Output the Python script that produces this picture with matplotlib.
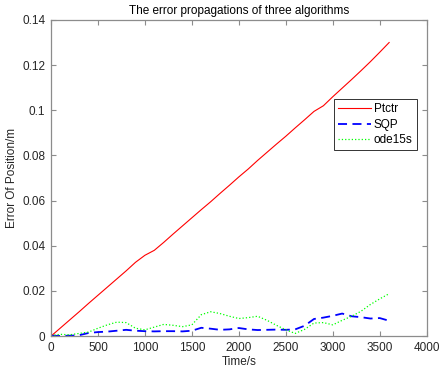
import matplotlib
matplotlib.use('Agg')
import matplotlib.pyplot as plt
import numpy as np

plt.rcParams['font.family'] = ['Liberation Sans', 'DejaVu Sans']

t = np.arange(0, 3700, 100)

ptctr = [0.0, 0.0036, 0.0072, 0.0108, 0.0145, 0.0181, 0.0217, 0.0253, 0.0289, 0.0327,
         0.0358, 0.0380, 0.0415, 0.0452, 0.0488, 0.0524, 0.0560, 0.0595, 0.0632, 0.0668,
         0.0705, 0.0740, 0.0778, 0.0814, 0.0850, 0.0885, 0.0922, 0.0958, 0.0995, 0.1020,
         0.1060, 0.1098, 0.1136, 0.1175, 0.1215, 0.1257, 0.1300]

sqp = [0.0002, 0.0001, 0.0002, 0.0004, 0.0014, 0.0018, 0.0020, 0.0024, 0.0028, 0.0024,
       0.0022, 0.0021, 0.0022, 0.0022, 0.0021, 0.0024, 0.0037, 0.0033, 0.0028, 0.0030,
       0.0036, 0.0030, 0.0027, 0.0028, 0.0029, 0.0028, 0.0030, 0.0046, 0.0076, 0.0082,
       0.0090, 0.0100, 0.0088, 0.0084, 0.0078, 0.0080, 0.0068]

ode15s = [0.0003, 0.0008, 0.0006, 0.0012, 0.0018, 0.0035, 0.0050, 0.0062, 0.0060, 0.0035,
          0.0028, 0.0040, 0.0052, 0.0048, 0.0042, 0.0050, 0.0095, 0.0108, 0.0100, 0.0088,
          0.0078, 0.0082, 0.0088, 0.0070, 0.0048, 0.0028, 0.0012, 0.0030, 0.0058, 0.0060,
          0.0050, 0.0070, 0.0088, 0.0110, 0.0140, 0.0165, 0.0188]

fig = plt.figure(figsize=(4.41, 3.76), dpi=100)
ax = fig.add_axes([0.1156, 0.106, 0.852, 0.841])

ax.plot(t, ptctr, color='red', lw=0.8, label='Ptctr')
ax.plot(t, sqp, color='blue', lw=1.3, ls=(0, (5, 3)), label='SQP')
ax.plot(t, ode15s, color='#00ff00', lw=0.9, ls=':', label='ode15s')

ax.set_xlim(0, 4000)
ax.set_ylim(0, 0.14)
ax.set_xticks(np.arange(0, 4001, 500))
ax.set_yticks(np.arange(0, 0.141, 0.02))
ax.set_yticklabels(['0', '0.02', '0.04', '0.06', '0.08', '0.1', '0.12', '0.14'])

gray = '#262626'
for s in ax.spines.values():
    s.set_color('#8c8c8c')
    s.set_linewidth(0.9)
ax.tick_params(direction='in', top=True, right=True, labelsize=8.5,
               colors='#8c8c8c', labelcolor=gray, length=3.5, pad=4)

ax.set_xlabel('Time/s', fontsize=8.5, color=gray, labelpad=2)
ax.set_ylabel('Error Of Position/m', fontsize=8.5, color=gray, labelpad=3)
ax.set_title('The error propagations of three algorithms', fontsize=8.5, color='black', pad=4)

leg = ax.legend(loc='upper right', bbox_to_anchor=(0.973, 0.75), fontsize=8.5,
                fancybox=False, framealpha=1, edgecolor='#333333',
                handlelength=2.8, handletextpad=0.25, borderpad=0.35,
                labelspacing=0.3, borderaxespad=0)
leg.get_frame().set_linewidth(0.7)

fig.savefig('out.png', dpi=100)
